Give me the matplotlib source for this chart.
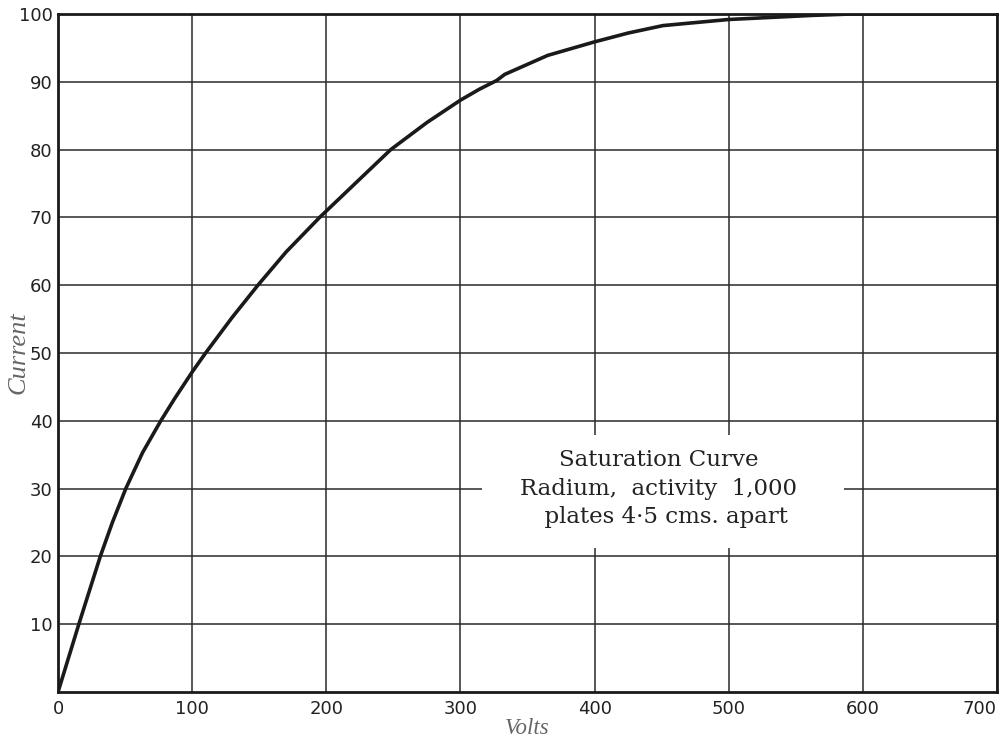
import numpy as np
import matplotlib.pyplot as plt
from matplotlib.patches import Rectangle

# values
volts = [0, 15.5, 31.5, 40.5, 50.5, 63, 76.6, 87, 100, 110, 130, 149, 170, 195, 222,
         248, 275, 300, 314, 327, 333, 365, 400, 425, 451, 500, 562, 590, 700]
current = [0, 10, 20, 25, 30, 35.3, 40, 43.3, 47.2, 50, 55.3, 60, 64.9, 70, 75.1,
           80, 84, 87.3, 88.9, 90.2, 91.1, 93.9, 95.9, 97.2, 98.3, 99.2, 99.8, 100, 100]

xticks = [0, 100, 200, 300, 400, 500, 600, 700]
yticks = [10, 20, 30, 40, 50, 60, 70, 80, 90, 100]

fig = plt.figure(figsize=(10.01, 7.4), dpi=100)
ax = fig.add_axes([0.058, 0.065, 0.938, 0.916])

ax.plot(volts, current, color='#1a1a1a', lw=2.6, solid_capstyle='round',
        solid_joinstyle='round', zorder=4)

ax.set_xlim(0, 700)
ax.set_ylim(0, 100)
ax.set_xticks(xticks)
ax.set_yticks(yticks)
ax.grid(True, color='#2a2a2a', lw=1.1)
ax.set_axisbelow(True)
ax.tick_params(axis='x', length=0, pad=6, labelsize=13, colors='#222222')
ax.tick_params(axis='y', length=0, pad=4, labelsize=13, colors='#222222')
ax.get_xticklabels()[-1].set_horizontalalignment('right')
for sp in ax.spines.values():
    sp.set_linewidth(2.0)
    sp.set_color('#1a1a1a')

ax.set_xlabel('Volts', family='Liberation Serif', style='italic', fontsize=16.5,
              color='#666666', labelpad=0)
ax.set_ylabel('Current', family='Liberation Serif', style='italic', fontsize=19,
              color='#666666', va='center')
ax.yaxis.set_label_coords(-0.042, 0.5)

# white panel behind the caption, hiding the grid
ax.add_patch(Rectangle((316, 21.2), 270, 16.7, facecolor='white', edgecolor='none',
                       zorder=2))
ax.text(448, 30, 'Saturation Curve\nRadium,  activity  1,000\n  plates 4·5 cms. apart',
        ha='center', va='center', family='DejaVu Serif', fontsize=16.5,
        color='#222222', linespacing=1.4, zorder=3)

fig.savefig('out.png', dpi=100, facecolor='white')
